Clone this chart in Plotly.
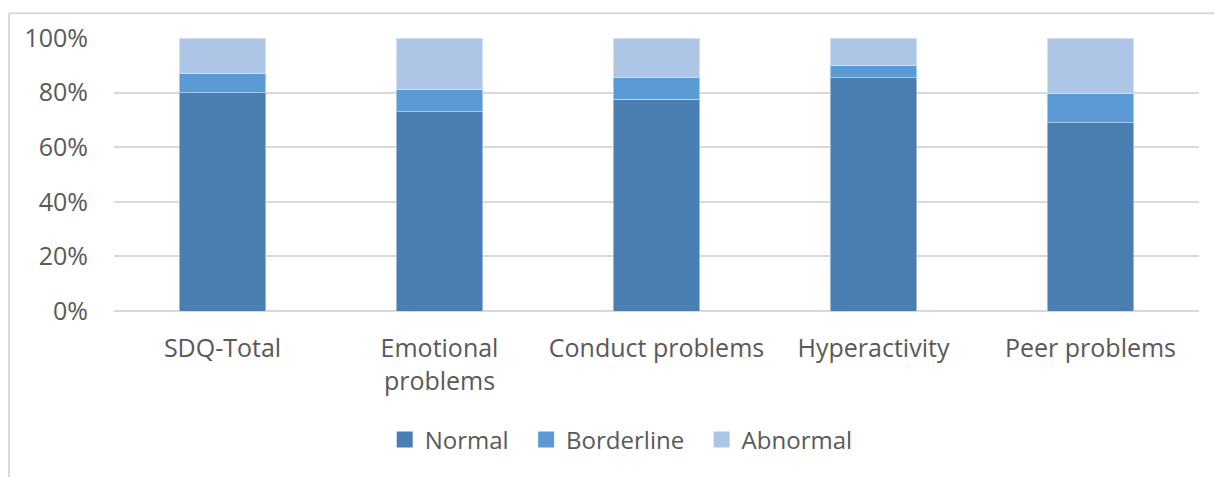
import plotly.graph_objects as go

# data (percent of respondents)
categories = ["SDQ-Total", "Emotional<br>problems", "Conduct problems", "Hyperactivity", "Peer problems"]
series_names = ["Normal", "Borderline", "Abnormal"]
normal = [80.0, 73.0, 77.5, 85.5, 69.0]
borderline = [7.0, 8.0, 8.2, 4.5, 10.5]
abnormal = [13.0, 19.0, 14.3, 10.0, 20.5]
y_ticks = [0, 20, 40, 60, 80, 100]
y_labels = [f"{v}%" for v in y_ticks]

colors = ["#4A7EB0", "#5B9BD5", "#AEC6E5"]
font = "Open Sans, DejaVu Sans, sans-serif"
txt = "#595959"
sep = dict(color="rgba(255,255,255,0.45)", width=1)

fig = go.Figure()
for name, vals, c in zip(series_names, [normal, borderline, abnormal], colors):
    fig.add_trace(go.Bar(x=categories, y=vals, name=name, showlegend=False,
                         marker=dict(color=c, line=sep)))
# legend entries with bigger square keys (nbsp padding widens the item gaps)
for name, c in zip(series_names, colors):
    fig.add_trace(go.Scatter(x=[None], y=[None], mode="markers", name=name + "\u00a0\u00a0",
                             marker=dict(symbol="square", size=16, color=c)))

# page body adds 8px; the figure is sized to fit the window after that offset
W, H = 1214, 469
L, T, R, B = 106, 26, 23, 166
pw, ph = W - L - R, H - T - B

# chart frame (left and top edges are the only ones visible)
bx = (1 - L) / pw
by = (H - B - 1) / ph
fig.add_shape(type="line", xref="paper", yref="paper", x0=bx, x1=bx, y0=-1, y1=by,
              line=dict(color="#D9D9D9", width=2))
fig.add_shape(type="line", xref="paper", yref="paper", x0=bx, x1=1.2, y0=by, y1=by,
              line=dict(color="#D9D9D9", width=2))

fig.update_layout(
    barmode="stack",
    bargap=0.6,
    width=W, height=H,
    margin=dict(l=L, r=R, t=T, b=B),
    paper_bgcolor="white", plot_bgcolor="white",
    font=dict(family=font, size=25, color=txt),
    legend=dict(orientation="h", x=0.473, xanchor="center", y=-0.472, yanchor="middle",
                font=dict(size=24, color=txt), traceorder="normal", itemwidth=30),
    xaxis=dict(showgrid=False, ticks="", ticklabelstandoff=20, showline=False,
               tickfont=dict(size=25, color=txt)),
    yaxis=dict(range=[0, 100], tickmode="array", tickvals=y_ticks, ticktext=y_labels,
               showgrid=True, gridcolor="#D9D9D9", gridwidth=2, zeroline=True,
               zerolinecolor="#D9D9D9", zerolinewidth=2, ticks="", ticklabelstandoff=25,
               tickfont=dict(size=25, color=txt)),
)

fig.write_html("out.html")
